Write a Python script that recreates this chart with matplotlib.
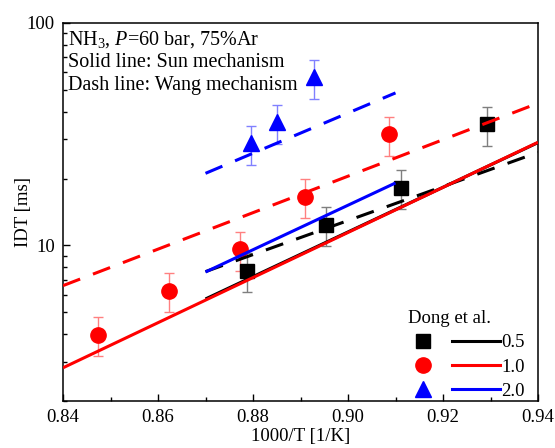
import matplotlib
matplotlib.use("Agg")
import matplotlib.pyplot as plt
from matplotlib.lines import Line2D
from matplotlib.legend_handler import HandlerBase
from matplotlib.ticker import MultipleLocator, LogLocator, NullFormatter, FixedLocator, FixedFormatter

plt.rcParams['font.family'] = ['Liberation Serif', 'DejaVu Serif']
plt.rcParams['mathtext.fontset'] = 'custom'
plt.rcParams['mathtext.rm'] = 'Liberation Serif'
plt.rcParams['mathtext.it'] = 'Liberation Serif:italic'
plt.rcParams['font.size'] = 13.5

# ---- experimental data (Dong et al.) ----
x_exp_05 = [0.8787, 0.8954, 0.9112, 0.9293]
y_exp_05 = [7.7, 12.4, 18.2, 35.1]
x_exp_10 = [0.8474, 0.8623, 0.8773, 0.8910, 0.9086]
y_exp_10 = [3.97, 6.27, 9.6, 16.6, 31.6]
x_exp_20 = [0.8796, 0.8851, 0.8928]
y_exp_20 = [28.8, 35.8, 57.1]
rel_err = 0.20

# ---- simulation lines ----
x_sun_05 = [0.87, 0.94]
y_sun_05 = [5.75, 29.0]
x_wang_05 = [0.87, 0.94]
y_wang_05 = [7.63, 26.2]
x_sun_10 = [0.84, 0.94]
y_sun_10 = [2.82, 29.1]
x_wang_10 = [0.84, 0.94]
y_wang_10 = [6.6, 43.6]
x_sun_20 = [0.87, 0.91]
y_sun_20 = [7.6, 19.1]
x_wang_20 = [0.87, 0.91]
y_wang_20 = [21.1, 48.5]

legend_labels = ['0.5', '1.0', '2.0']
colors = ['#000000', '#FF0000', '#0000FF']
err_colors = ['#7f7f7f', '#ff8080', '#8080ff']
markers = ['s', 'o', '^']
msizes = [9.5, 11, 11.5]

fig = plt.figure(figsize=(5.55, 4.48), dpi=100)
ax = fig.add_axes([63/555, 1-401/448, 475/555, 378/448])

exp_sets = [(x_exp_05, y_exp_05), (x_exp_10, y_exp_10), (x_exp_20, y_exp_20)]
for (xs, ys), c, ec, m, ms in zip(exp_sets, colors, err_colors, markers, msizes):
    errs = [v * rel_err for v in ys]
    ax.errorbar(xs, ys, yerr=errs, fmt='none', ecolor=ec, elinewidth=1.0,
                capsize=3.5, capthick=1.0, zorder=2)
    ax.plot(xs, ys, linestyle='none', marker=m, markersize=ms, color=c,
            markeredgecolor=c, zorder=3)

lw = 2.2
dash = (6, 4.5)
line_sets = [
    (x_sun_05, y_sun_05, x_wang_05, y_wang_05),
    (x_sun_10, y_sun_10, x_wang_10, y_wang_10),
    (x_sun_20, y_sun_20, x_wang_20, y_wang_20),
]
for (xs, ys, xw, yw), c in zip(line_sets, colors):
    ax.plot(xs, ys, color=c, lw=lw, solid_capstyle='butt', zorder=4)
    ax.plot(xw, yw, color=c, lw=lw, dashes=dash, dash_capstyle='butt', zorder=4)

ax.set_yscale('log')
ax.set_xlim(0.84, 0.94)
ax.set_ylim(2, 100)

ax.xaxis.set_major_locator(MultipleLocator(0.02))
ax.xaxis.set_minor_locator(MultipleLocator(0.01))
ax.xaxis.set_major_formatter(matplotlib.ticker.FormatStrFormatter('%.2f'))
ax.yaxis.set_major_locator(FixedLocator([10, 100]))
ax.yaxis.set_major_formatter(FixedFormatter(['10', '100']))
ax.yaxis.set_minor_locator(LogLocator(base=10, subs=range(2, 10)))
ax.yaxis.set_minor_formatter(NullFormatter())

ax.tick_params(which='both', direction='in', top=False, right=False, width=1.0)
ax.tick_params(which='major', length=5, labelsize=13.5, pad=6)
ax.tick_params(which='minor', length=3)
for s in ax.spines.values():
    s.set_linewidth(1.1)

ax.set_xlabel('1000/T [1/K]', fontsize=13.5, labelpad=1)
ax.set_ylabel('IDT [ms]', fontsize=13.5, labelpad=-4)

# annotation lines (pixel rows ~37, 60, 83 from top of figure)
ann_lines = ['NH$_3$, $P$=60 bar, 75%Ar', 'Solid line: Sun mechanism', 'Dash line: Wang mechanism']
for i, t in enumerate(ann_lines):
    ypix = 37 + 23 * i
    ax.text(68 / 555, 1 - ypix / 448, t, transform=fig.transFigure,
            ha='left', va='center_baseline', fontsize=14.5)


class MarkerLineHandler(HandlerBase):
    def create_artists(self, legend, orig_handle, xdescent, ydescent, width, height,
                       fontsize, trans):
        m, c, ms = orig_handle
        y = height / 2 - ydescent
        mk = Line2D([width * 0.12], [y], marker=m, color=c, markersize=ms,
                    linestyle='none', transform=trans)
        ln = Line2D([width * 0.45, width], [y, y], color=c, lw=lw, transform=trans)
        return [mk, ln]


handles = [(m, c, ms) for m, c, ms in zip(markers, colors, msizes)]
leg = ax.legend(handles, legend_labels, handler_map={tuple: MarkerLineHandler()},
                frameon=False, loc='lower right',
                bbox_to_anchor=(1.0, -0.032), handlelength=4.7, handletextpad=0.05,
                labelspacing=0.38, fontsize=13.5, borderaxespad=0.3)
ax.text(449 / 555, 1 - 318 / 448, 'Dong et al.', transform=fig.transFigure,
        ha='center', va='center', fontsize=13.5)

fig.savefig('out.png', dpi=100)
